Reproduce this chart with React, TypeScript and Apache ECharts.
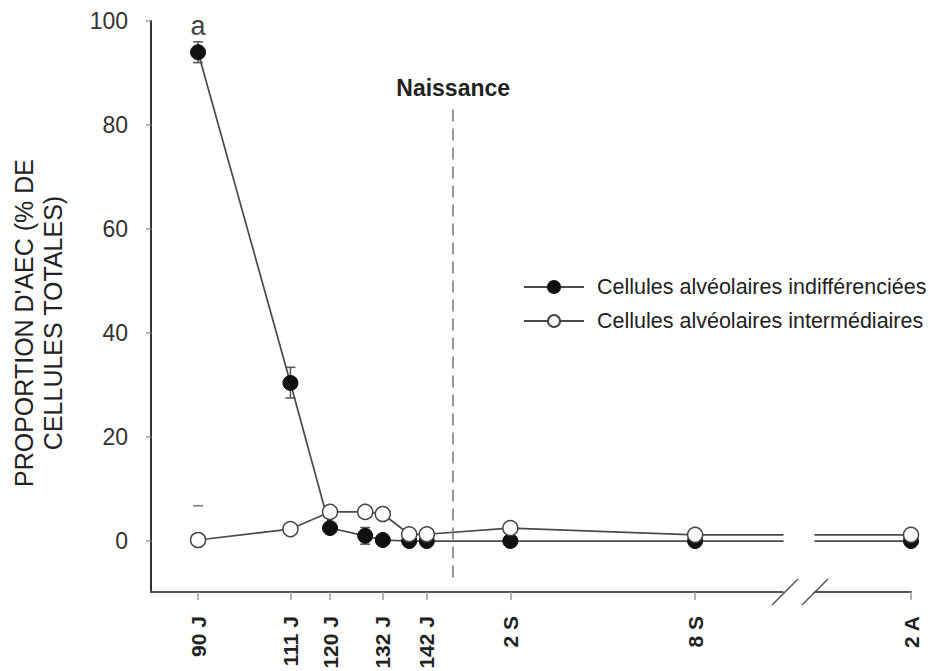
import React, { useEffect, useRef } from 'react';
import * as echarts from 'echarts';

const tickDays = [90, 111, 120, 132, 142, 161, 203, 730];
const tickLabels = ['90 J', '111 J', '120 J', '132 J', '142 J', '2 S', '8 S', '2 A'];
const sampleDays = [90, 111, 120, 128, 132, 138, 142, 161, 203, 730];
const indifferenciees = [94, 30.4, 2.5, 1.0, 0.2, 0, 0, 0, 0, 0];
const intermediaires = [0.2, 2.3, 5.6, 5.6, 5.2, 1.3, 1.3, 2.5, 1.2, 1.2];
const errIndif = [[90, 92, 96], [111, 27.5, 33.4], [128, -0.6, 2.6]];
const errInter = [[90, 6.8, 6.8]];
const yTicks = [0, 20, 40, 60, 80, 100];
const birthDay = 148;
const seriesNames = ['Cellules alvéolaires indifférenciées', 'Cellules alvéolaires intermédiaires'];
const yTitle = "PROPORTION D'AEC (% DE\nCELLULES TOTALES)";

const FONT = 'Liberation Sans, Arial, sans-serif';

function errorSeries(data: number[][], color: string, stem: boolean) {
  return {
    type: 'custom',
    z: 1,
    silent: true,
    data,
    encode: { x: 0, y: [1, 2] },
    renderItem: (params: any, api: any) => {
      const x = api.value(0);
      const lo = api.value(1);
      const hi = api.value(2);
      const pLo = api.coord([x, lo]);
      const pHi = api.coord([x, hi]);
      const w = 5;
      const style = { stroke: color, lineWidth: 1.5, fill: null };
      const children: any[] = [
        { type: 'line', shape: { x1: pHi[0] - w, y1: pHi[1], x2: pHi[0] + w, y2: pHi[1] }, style },
        { type: 'line', shape: { x1: pLo[0] - w, y1: pLo[1], x2: pLo[0] + w, y2: pLo[1] }, style },
      ];
      if (stem) {
        children.push({ type: 'line', shape: { x1: pLo[0], y1: pLo[1], x2: pHi[0], y2: pHi[1] }, style });
      }
      return { type: 'group', children };
    },
  };
}

export default function App() {
  const ref = useRef<HTMLDivElement>(null);
  useEffect(() => {
    if (!ref.current) return;
    const chart = echarts.init(ref.current, null, { renderer: 'svg' });
    const option: any = {
      animation: false,
      backgroundColor: '#fff',
      textStyle: { fontFamily: FONT },
      grid: { left: 151, right: 19, top: 21, bottom: 79, containLabel: false, outerBoundsMode: 'none' },
      legend: {
        data: seriesNames,
        orient: 'vertical',
        left: 523,
        top: 276,
        padding: 0,
        z: 200,
        itemWidth: 60,
        itemHeight: 15,
        itemGap: 12,
        textStyle: { fontSize: 21.5, color: '#222', fontFamily: FONT, padding: [0, 0, 0, 8] },
      },
      xAxis: {
        type: 'value',
        min: 79.3,
        max: 730,
        breaks: [{ start: 223, end: 708, gap: '4.1%' }],
        breakArea: {
          show: true,
          itemStyle: { color: '#fff', borderWidth: 0, opacity: 1 },
          zigzagAmplitude: 0,
        },
        splitLine: { show: false },
        axisLine: { show: true, onZero: false, lineStyle: { color: '#555', width: 2 } },
        axisTick: {
          show: true,
          customValues: tickDays,
          length: 8,
          lineStyle: { color: '#999', width: 1.5 },
        },
        axisLabel: {
          show: true,
          customValues: tickDays,
          rotate: 90,
          margin: 24,
          fontSize: 21,
          fontWeight: 'bold',
          color: '#222',
          fontFamily: FONT,
          formatter: (v: number) => {
            const i = tickDays.indexOf(v);
            return i >= 0 ? tickLabels[i] : '';
          },
        },
      },
      yAxis: {
        type: 'value',
        min: -9.8,
        max: 100,
        splitLine: { show: false },
        axisLine: { show: true, onZero: false, lineStyle: { color: '#333', width: 2 } },
        axisTick: { show: true, customValues: yTicks, length: 5, lineStyle: { color: '#999', width: 1.5 } },
        axisLabel: {
          show: true,
          customValues: yTicks,
          margin: 23,
          fontSize: 23,
          color: '#333',
          fontFamily: FONT,
        },
      },
      graphic: [
        {
          type: 'text',
          x: 38.5,
          y: 323,
          rotation: Math.PI / 2,
          style: {
            text: yTitle,
            fontSize: 25,
            lineHeight: 29,
            fill: '#222',
            fontFamily: FONT,
            align: 'center',
            verticalAlign: 'middle',
          },
        },
        { type: 'line', z: 300, shape: { x1: 772, y1: 605, x2: 798, y2: 579 }, style: { stroke: '#555', lineWidth: 1.5 } },
        { type: 'line', z: 300, shape: { x1: 802, y1: 605, x2: 828, y2: 579 }, style: { stroke: '#555', lineWidth: 1.5 } },
      ],
      series: [
        errorSeries(errIndif, '#555', true),
        errorSeries(errInter, '#888', false),
        {
          name: seriesNames[0],
          type: 'line',
          z: 3,
          data: sampleDays.map((d, i) => [d, indifferenciees[i]]),
          symbol: 'circle',
          symbolSize: 15,
          lineStyle: { color: '#4a4a4a', width: 1.7 },
          itemStyle: { color: '#111', borderColor: '#111', borderWidth: 1 },
          label: {
            show: true,
            position: 'top',
            distance: 5,
            fontSize: 27,
            color: '#444',
            fontFamily: FONT,
            formatter: (p: any) => (p.dataIndex === 0 ? 'a' : ''),
          },
        },
        {
          name: seriesNames[1],
          type: 'line',
          z: 4,
          data: sampleDays.map((d, i) => [d, intermediaires[i]]),
          symbol: 'circle',
          symbolSize: 15,
          lineStyle: { color: '#4a4a4a', width: 1.7 },
          itemStyle: { color: '#fff', borderColor: '#444', borderWidth: 1.5 },
          markLine: {
            silent: true,
            symbol: ['none', 'none'],
            lineStyle: { color: '#777', type: [12, 7], width: 1.5 },
            label: {
              show: true,
              position: 'end',
              formatter: 'Naissance',
              fontWeight: 'bold',
              fontSize: 23,
              color: '#222',
              fontFamily: FONT,
              distance: 10,
            },
            data: [[{ coord: [birthDay, -7] }, { coord: [birthDay, 83] }]],
          },
        },
      ],
    };
    chart.setOption(option);
    return () => chart.dispose();
  }, []);
  return (
    <div
      ref={ref}
      style={{ position: 'fixed', left: 0, top: 0, width: 930, height: 671, background: '#fff' }}
    />
  );
}
